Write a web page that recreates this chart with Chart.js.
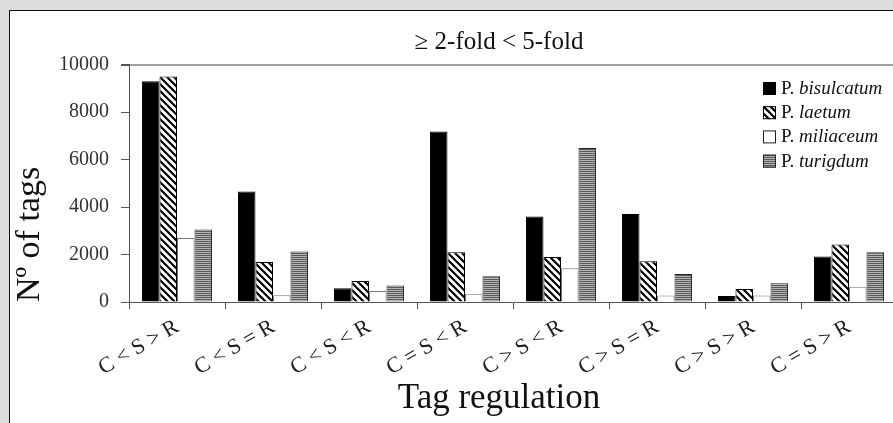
<!DOCTYPE html>
<html>
<head>
<meta charset="utf-8">
<script src="https://cdn.jsdelivr.net/npm/chart.js@4.4.0/dist/chart.umd.min.js"></script>
<style>
html, body { margin: 0; padding: 0; background: #dcdcdc; overflow: hidden; width: 893px; height: 423px; }
#panel { position: absolute; left: 9px; top: 10px; width: 990px; height: 420px; background: #fff;
         border-left: 1px solid #111; border-top: 1px solid #111; overflow: hidden; }
#chart { display: block; }
</style>
</head>
<body>
<div id="panel"><canvas id="chart" width="978" height="412"></canvas></div>
<script>
// categories and tag counts per species
var categories = ['C < S > R', 'C < S = R', 'C < S < R', 'C = S < R', 'C > S < R', 'C > S = R', 'C > S > R', 'C = S > R'];
var bisulcatum = [9300, 4650, 580, 7180, 3600, 3710, 250, 1920];
var laetum     = [9500, 1680, 880, 2090, 1890, 1720, 550, 2420];
var miliaceum  = [2700, 280, 460, 350, 1420, 270, 270, 640];
var turigdum   = [3050, 2130, 700, 1080, 6480, 1180, 790, 2100];
var yMax = 10000, yStep = 2000;
var chartTitle = '\u2265 2-fold < 5-fold';
var xTitle = 'Tag regulation';
var yTitle = 'N\u00ba of tags';

var canvas = document.getElementById('chart');
var ctx = canvas.getContext('2d');
var serif = '"Liberation Serif", "Times New Roman", serif';

// diagonal "\" hatch, black on white
function hatch() {
  var c = document.createElement('canvas');
  c.width = 7; c.height = 7;
  var g = c.getContext('2d');
  g.fillStyle = '#fff'; g.fillRect(0, 0, 7, 7);
  g.strokeStyle = '#000'; g.lineWidth = 2.2;
  g.beginPath();
  g.moveTo(-1, -1); g.lineTo(8, 8);
  g.moveTo(-1, 6); g.lineTo(1, 8);
  g.moveTo(6, -1); g.lineTo(8, 1);
  g.stroke();
  return ctx.createPattern(c, 'repeat');
}
// thin horizontal stripes, reads as mid grey
function stripes() {
  var c = document.createElement('canvas');
  c.width = 2; c.height = 2;
  var g = c.getContext('2d');
  g.fillStyle = '#5a5a5a'; g.fillRect(0, 0, 2, 1);
  g.fillStyle = '#b4b4b4'; g.fillRect(0, 1, 2, 1);
  return ctx.createPattern(c, 'repeat');
}

// top title and x-axis title, centred on the whole canvas
var pageTitles = {
  id: 'pageTitles',
  afterDraw: function(chart) {
    var c = chart.ctx, cx = chart.width / 2;
    c.save();
    c.fillStyle = '#111';
    c.textAlign = 'center';
    c.textBaseline = 'middle';
    c.font = '25px ' + serif;
    c.fillText(chartTitle, cx, 31);
    c.font = '35px ' + serif;
    c.fillText(xTitle, cx, chart.height - 24);
    c.restore();
  }
};

// legend drawn inside the plot, top right
var insideLegend = {
  id: 'insideLegend',
  afterDraw: function(chart) {
    var c = chart.ctx, area = chart.chartArea;
    var x = area.right - 134, y = area.top + 23.5;
    chart.data.datasets.forEach(function(ds, i) {
      var cy = y + i * 24.2;
      c.save();
      c.fillStyle = ds.backgroundColor;
      c.fillRect(x, cy - 6, 13, 13);
      c.strokeStyle = ds.legendBorder || ds.borderColor;
      c.lineWidth = 1;
      c.strokeRect(x + 0.5, cy - 5.5, 12, 12);
      c.fillStyle = '#111';
      c.textBaseline = 'middle';
      c.font = '19px ' + serif;
      c.fillText('P.', x + 18, cy + 1);
      var w = c.measureText('P. ').width;
      c.font = 'italic 19px ' + serif;
      c.fillText(ds.label.replace('P. ', ''), x + 18 + w, cy + 1);
      c.restore();
    });
  }
};

new Chart(ctx, {
  type: 'bar',
  data: {
    labels: categories,
    datasets: [
      { label: 'P. bisulcatum', data: bisulcatum, backgroundColor: '#000', borderColor: '#000', borderWidth: 1 },
      { label: 'P. laetum', data: laetum, backgroundColor: hatch(), borderColor: '#000', borderWidth: 1 },
      { label: 'P. miliaceum', data: miliaceum, backgroundColor: '#fff', borderColor: '#777', legendBorder: '#222', borderWidth: 1 },
      { label: 'P. turigdum', data: turigdum, backgroundColor: stripes(), borderColor: '#222', borderWidth: 1 }
    ]
  },
  options: {
    responsive: false,
    animation: false,
    devicePixelRatio: 1,
    categoryPercentage: 0.73,
    barPercentage: 1,
    layout: { padding: { left: 0, right: 91, top: 53.5, bottom: 46 } },
    plugins: {
      legend: { display: false },
      tooltip: { enabled: false }
    },
    scales: {
      x: {
        afterFit: function(scale) { scale.height = 75; },
        grid: { offset: true, drawOnChartArea: false, color: 'rgba(0,0,0,0)', tickColor: '#555', tickLength: 7 },
        border: { color: '#555', width: 1 },
        ticks: { color: '#222', font: { family: serif, size: 22 }, minRotation: 30, maxRotation: 30, autoSkip: false, padding: 5 }
      },
      y: {
        min: 0,
        max: yMax,
        afterFit: function(scale) { scale.width = 119; },
        grid: {
          color: function(c) { return c.tick && c.tick.value === yMax ? '#a0a0a0' : 'rgba(0,0,0,0)'; },
          lineWidth: function(c) { return c.tick && c.tick.value === yMax ? 2 : 1; },
          tickColor: '#555',
          tickLength: 8
        },
        border: { color: '#555', width: 1 },
        ticks: {
          stepSize: yStep,
          color: '#333',
          font: { family: serif, size: 20 },
          padding: 12,
          callback: function(v) { return String(v); }
        },
        title: {
          display: true,
          text: yTitle,
          align: 'start',
          color: '#111',
          font: { family: serif, size: 34, weight: 'normal' },
          padding: 0
        }
      }
    }
  },
  plugins: [pageTitles, insideLegend]
});
</script>
</body>
</html>
